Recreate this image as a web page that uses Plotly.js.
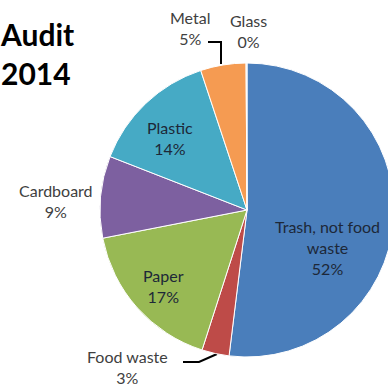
<!DOCTYPE html>
<html>
<head>
<meta charset="utf-8">
<script src="https://cdn.plot.ly/plotly-3.0.1.min.js"></script>
<style>
html,body{margin:0;padding:0;overflow:hidden;background:#fff;width:388px;height:390px;}
#chart{width:400px;height:390px;}
</style>
</head>
<body>
<div id="chart"></div>
<script>
// Data
const categories = ["Trash, not food waste", "Food waste", "Paper", "Cardboard", "Plastic", "Metal", "Glass"];
const labelText = ["Trash, not food<br>waste", "Food waste", "Paper", "Cardboard", "Plastic", "Metal", "Glass"];
const values = [52, 3, 17, 9, 14, 5, 0.1];
const colors = ["#4A7EBB", "#BE4B48", "#98B954", "#7D60A0", "#46AAC5", "#F59B52", "#dbe3ee"];
const titleLines = ["Audit", "2014"];

const W = 400, H = 390;
const px = x => x / W;
const py = y => 1 - y / H;

const total = values.reduce((a, b) => a + b, 0);
const pct = values.map(v => Math.round(v / total * 100) + "%");

// label placement (pixel centres) and colours
const labelPos = [[327, 248], [127, 367], [163, 286], [56, 201], [170, 138], [190, 28], [248, 31]];
const labelColor = ["#1d2838", "#404040", "#1d2838", "#404040", "#1d2838", "#404040", "#404040"];

const annotations = categories.map((c, i) => ({
  x: px(labelPos[i][0]), y: py(labelPos[i][1]), xref: "paper", yref: "paper",
  xanchor: "center", yanchor: "middle", showarrow: false, align: "center",
  text: labelText[i] + "<br>" + pct[i],
  font: {family: "Lato, 'Open Sans', sans-serif", size: 16, color: labelColor[i]}
}));

annotations.push({
  x: px(-2), y: py(14), xref: "paper", yref: "paper", xanchor: "left", yanchor: "top",
  showarrow: false, align: "left", text: "<b>" + titleLines.join("<br>") + "</b>",
  font: {family: "Lato, 'Open Sans', sans-serif", size: 30, color: "#000"}
});

// leader lines (pixel geometry on a hidden overlay axis)
const leaderX = [208, 221, 221, null, 183, 199, 217];
const leaderY = [42, 42, 64, null, 362, 362, 354];

const cx = 247, cy = 210, r = 147;
const pie = {
  type: "pie",
  labels: categories,
  values: values,
  sort: false,
  direction: "clockwise",
  rotation: 0,
  marker: {colors: colors, line: {color: "#ffffff", width: 1}},
  textinfo: "none",
  hoverinfo: "label+percent",
  domain: {x: [px(cx - r), px(cx + r)], y: [py(cy + r), py(cy - r)]},
  showlegend: false
};
const leaders = {
  type: "scatter", mode: "lines", x: leaderX, y: leaderY,
  line: {color: "#000000", width: 2}, hoverinfo: "skip", showlegend: false
};

Plotly.newPlot("chart", [pie, leaders], {
  width: W, height: H,
  margin: {l: 0, r: 0, t: 0, b: 0},
  paper_bgcolor: "rgba(0,0,0,0)",
  plot_bgcolor: "rgba(0,0,0,0)",
  showlegend: false,
  xaxis: {range: [0, W], visible: false, fixedrange: true},
  yaxis: {range: [H, 0], visible: false, fixedrange: true},
  annotations: annotations
}, {displayModeBar: false, staticPlot: true});
</script>
</body>
</html>
